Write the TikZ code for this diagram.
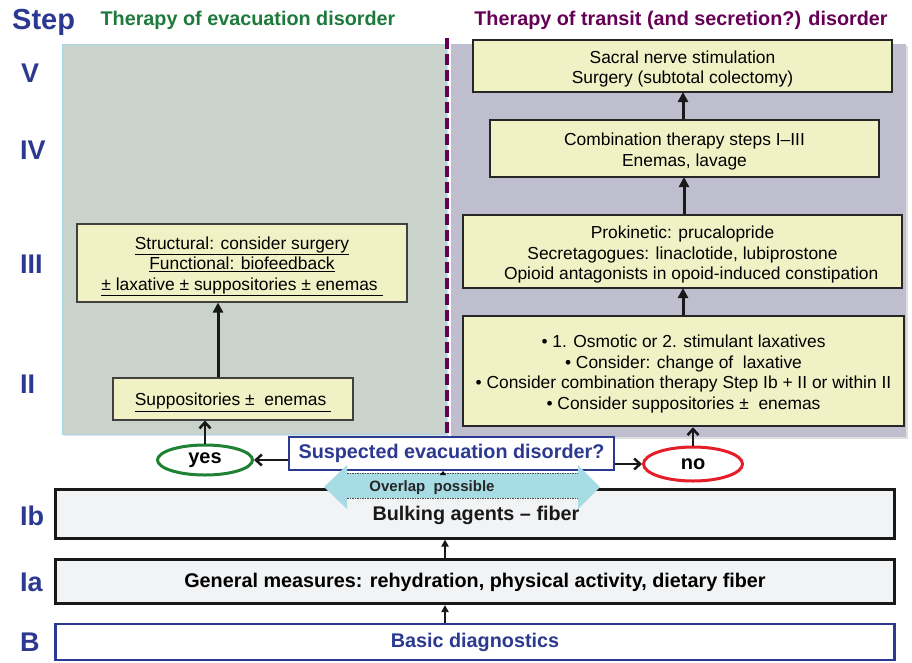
\documentclass[tikz,border=0pt]{standalone}
\usepackage{fontspec}
\setmainfont{Liberation Sans}
\usetikzlibrary{arrows.meta,shadows,shapes.geometric}
\definecolor{navy}{RGB}{43,57,144}
\definecolor{tgreen}{RGB}{30,122,60}
\definecolor{tpurple}{RGB}{102,0,85}
\definecolor{lpfill}{RGB}{201,211,203}
\definecolor{lpedge}{RGB}{170,215,228}
\definecolor{rpfill}{RGB}{190,190,206}
\definecolor{yel}{RGB}{240,242,198}
\definecolor{barfill}{RGB}{242,243,245}
\definecolor{ovcyan}{RGB}{168,220,228}
\definecolor{yesgreen}{RGB}{30,130,50}
\definecolor{nored}{RGB}{230,30,40}
\newcommand\mytopstrut{\rule{0pt}{19pt}}
\begin{document}
\begin{tikzpicture}[x=1pt,y=-1pt,
  steplabel/.style={anchor=west,text=navy,font=\fontsize{27}{30}\selectfont\bfseries,inner sep=0pt},
  titletext/.style={font=\fontsize{19.8}{22}\selectfont\bfseries,inner sep=0pt},
  panelbox/.style={inner sep=0pt,drop shadow={shadow xshift=2pt,shadow yshift=-2pt,opacity=0.25}},
  rbox/.style={draw=black!85,line width=2.5pt,fill=yel,align=center,inner sep=0pt,
    font=\fontsize{17.4}{20.5}\selectfont},
  lbox/.style={draw=black!75,line width=1.1pt,fill=yel,align=center,inner sep=0pt,
    font=\fontsize{17.4}{20.5}\selectfont},
  barbox/.style={draw=black!90,line width=3pt,fill=barfill,inner sep=0pt,
    minimum width=839pt,font=\fontsize{19.8}{22}\selectfont\bfseries},
  bigarrow/.style={line width=3pt,black!90,-{Triangle[width=10pt,length=10pt]}},
  barbarrow/.style={line width=2.5pt,black!90,-{Straight Barb[width=11pt,length=6pt]}},
  smallarrow/.style={line width=2pt,black!90,-{Triangle[width=7pt,length=7pt]}},
  oval/.style={ellipse,line width=3pt,fill=white,inner sep=0pt,font=\fontsize{20}{22}\selectfont\bfseries}
]
\useasboundingbox (0,0) rectangle (912,662);
% panels
\node[panelbox,fill=lpfill,draw=lpedge,line width=1pt,minimum width=384pt,minimum height=390pt] (lp) at (254,239) {};
\node[panelbox,fill=rpfill,minimum width=455pt,minimum height=393pt] (rp) at (678.5,240.5) {};
\coordinate (dtop) at (447,38);
\coordinate (dbot) at (447,437);
\draw[tpurple,line width=3.5pt,dash pattern=on 11pt off 5pt] (dtop) -- (dbot);
% titles and step labels
\node[steplabel,font=\fontsize{29}{32}\selectfont\bfseries] (sstep) at (12,22) {Step};
\node[titletext,text=tgreen] (tleft) at (248,20) {Therapy of evacuation disorder};
\node[titletext,text=tpurple] (tright) at (681,20) {Therapy of transit (and secretion?) disorder};
\node[steplabel] (s5) at (21,73) {V};
\node[steplabel] (s4) at (20,150) {IV};
\node[steplabel] (s3) at (20,264) {III};
\node[steplabel] (s2) at (20,384) {II};
\node[steplabel] (s1b) at (20,516) {Ib};
\node[steplabel] (s1a) at (20,582) {Ia};
\node[steplabel] (sb) at (20,642) {B};
% right column boxes
\node[rbox,minimum width=419pt,minimum height=52pt] (r5) at (682.5,66) {\mytopstrut Sacral nerve stimulation\\Surgery (subtotal colectomy)};
\node[rbox,minimum width=389pt,minimum height=57pt] (r4) at (684.5,148.5) {\mytopstrut Combination therapy steps I–III\\Enemas, lavage};
\node[rbox,minimum width=439pt,minimum height=73pt] (r3) at (682.5,251.5) {\mytopstrut Prokinetic: prucalopride\\Secretagogues: linaclotide, lubiprostone\\\hspace*{1.0em}Opioid antagonists in opoid-induced constipation};
\node[rbox,minimum width=441pt,minimum height=110pt] (r2) at (683.5,371) {\mytopstrut • 1. Osmotic or 2. stimulant laxatives\\• Consider: change of\ \ laxative\\• Consider combination therapy Step Ib + II or within II\\• Consider suppositories ± \ enemas};
% left column boxes
\node[lbox,minimum width=330pt,minimum height=78pt] (l3) at (242,263) {\mytopstrut\underline{Structural: consider surgery}\\\underline{Functional: biofeedback}\\\underline{± laxative ± suppositories ± enemas\ }};
\node[lbox,minimum width=240pt,minimum height=42pt] (l2) at (233,399) {\mytopstrut\underline{Suppositories ± \ enemas\ }};
% bars
\node[barbox,minimum height=49pt] (ib) at (475,513.5) {};
\node[barbox,minimum height=44pt] (ia) at (475,581.5) {\rule{0pt}{17pt}General measures: rehydration, physical activity, dietary fiber};
\node[barbox,draw=navy,line width=2.5pt,fill=white,text=navy,minimum height=36pt] (bd) at (475,642) {Basic diagnostics};
% decision row
\node[draw=navy,line width=2pt,fill=white,text=navy,font=\fontsize{19.8}{22}\selectfont\bfseries,minimum width=325pt,minimum height=33pt,inner sep=0pt] (susp) at (451.5,453.5) {Suspected evacuation disorder?};
\node[oval,draw=yesgreen,minimum width=95pt,minimum height=30pt] (yes) at (205,460) {yes};
\node[oval,draw=nored,minimum width=99pt,minimum height=34pt] (no) at (693,464) {no};
% overlap double arrow
\fill[ovcyan] (324,487) -- (347,465) -- (347,473) -- (578,473) -- (578,465) -- (600,487)
  -- (578,509) -- (578,498) -- (347,498) -- (347,509) -- cycle;
\draw[black!70,line width=0.7pt,dash pattern=on 1.5pt off 1pt] (347,473) -- (578,473) (347,498) -- (578,498);
\node[font=\fontsize{15}{17}\selectfont\bfseries,text=black!85,inner sep=0pt] (ovl) at (432,488) {Overlap\ \ possible};
\node[font=\fontsize{19.8}{22}\selectfont\bfseries,text=black!90,inner sep=0pt] (bulk) at (476,515) {Bulking agents – fiber};
\coordinate (ovtop) at (443,474);
\draw[black,line width=0.6pt,-{Triangle[width=6pt,length=4pt]}] (ovtop) -- (ovtop |- susp.south);
% connectors
\draw[bigarrow] (r4.north -| 683,0) -- (683,92);
\draw[bigarrow] (r3.north -| 684,0) -- (684,177);
\draw[bigarrow] (r2.north -| 683,0) -- (683,288);
\draw[bigarrow] (l2.north -| 218,0) -- (l3.south -| 218,0);
\draw[barbarrow] (yes.north) -- (yes.north |- l2.south);
\draw[barbarrow] (no.north) -- (no.north |- r2.south);
\draw[barbarrow] (yes.east -| susp.west) -- (yes.east);
\draw[barbarrow] (no.west -| susp.east) -- (no.west);
\draw[smallarrow] (ia.north -| 445,0) -- (ib.south -| 445,0);
\draw[smallarrow] (bd.north -| 445,0) -- (ia.south -| 445,0);
\end{tikzpicture}
\end{document}
